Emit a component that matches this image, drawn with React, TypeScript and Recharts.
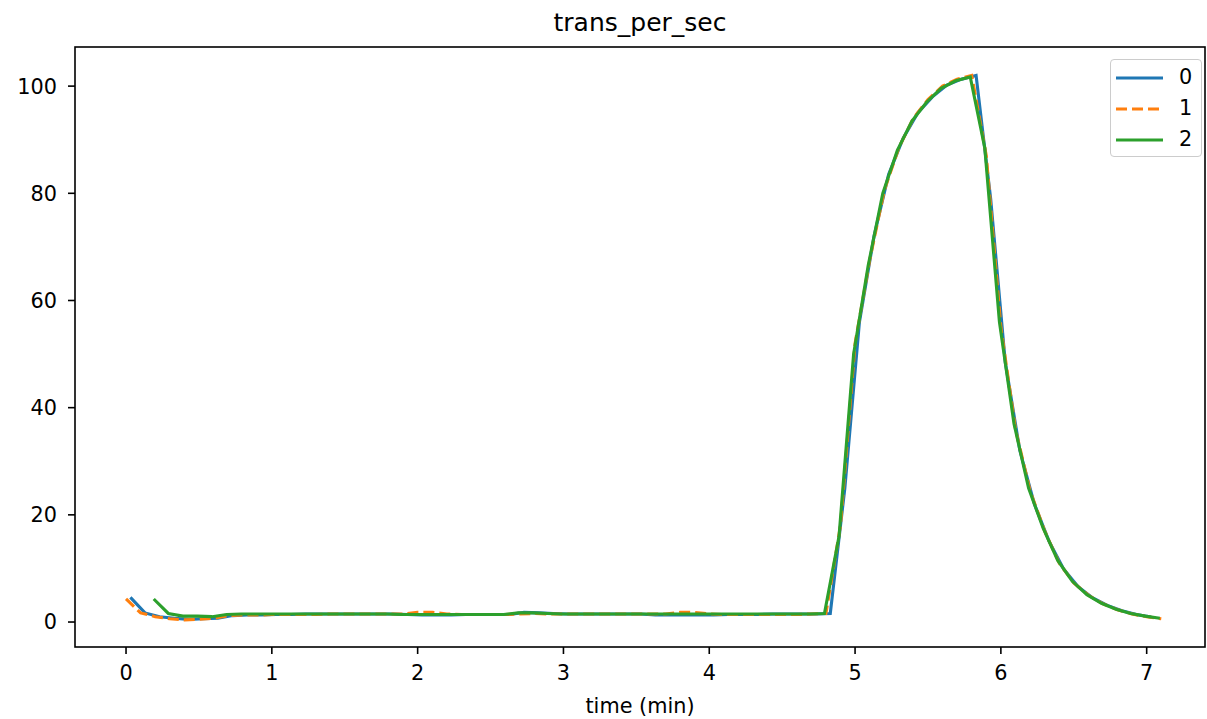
import React from 'react';
import { LineChart, Line, XAxis, YAxis, Legend } from 'recharts';

const FONT = '"DejaVu Sans", Verdana, sans-serif';

// sample times (minutes) for each run
const time0 = [
  0.03, 0.13, 0.23, 0.33, 0.43, 0.53, 0.63, 0.73, 0.83, 0.93,
  1.03, 1.13, 1.23, 1.33, 1.43, 1.53, 1.63, 1.73, 1.83, 1.93,
  2.03, 2.13, 2.23, 2.33, 2.43, 2.53, 2.63, 2.73, 2.83, 2.93,
  3.03, 3.13, 3.23, 3.33, 3.43, 3.53, 3.63, 3.73, 3.83, 3.93,
  4.03, 4.13, 4.23, 4.33, 4.43, 4.53, 4.63, 4.73, 4.83, 4.93,
  5.03, 5.13, 5.23, 5.33, 5.43, 5.53, 5.63, 5.73, 5.83, 5.93,
  6.03, 6.13, 6.23, 6.33, 6.43, 6.53, 6.63, 6.73, 6.83, 6.93,
  7.03,
];
const time1 = [
  0.0, 0.1, 0.2, 0.3, 0.4, 0.5, 0.6, 0.7, 0.8, 0.9,
  1.0, 1.1, 1.2, 1.3, 1.4, 1.5, 1.6, 1.7, 1.8, 1.9,
  2.0, 2.1, 2.2, 2.3, 2.4, 2.5, 2.6, 2.7, 2.8, 2.9,
  3.0, 3.1, 3.2, 3.3, 3.4, 3.5, 3.6, 3.7, 3.8, 3.9,
  4.0, 4.1, 4.2, 4.3, 4.4, 4.5, 4.6, 4.7, 4.8, 4.9,
  5.0, 5.1, 5.2, 5.3, 5.4, 5.5, 5.6, 5.7, 5.8, 5.9,
  6.0, 6.1, 6.2, 6.3, 6.4, 6.5, 6.6, 6.7, 6.8, 6.9,
  7.0, 7.1,
];
const time2 = [
  0.19, 0.29, 0.39, 0.49, 0.59, 0.69, 0.79, 0.89, 0.99, 1.09,
  1.19, 1.29, 1.39, 1.49, 1.59, 1.69, 1.79, 1.89, 1.99, 2.09,
  2.19, 2.29, 2.39, 2.49, 2.59, 2.69, 2.79, 2.89, 2.99, 3.09,
  3.19, 3.29, 3.39, 3.49, 3.59, 3.69, 3.79, 3.89, 3.99, 4.09,
  4.19, 4.29, 4.39, 4.49, 4.59, 4.69, 4.79, 4.89, 4.99, 5.09,
  5.19, 5.29, 5.39, 5.49, 5.59, 5.69, 5.79, 5.89, 5.99, 6.09,
  6.19, 6.29, 6.39, 6.49, 6.59, 6.69, 6.79, 6.89, 6.99, 7.09,
];

// trans_per_sec readings
const values0 = [
  4.6, 1.7, 1.0, 0.7, 0.5, 0.6, 0.7, 1.2, 1.3, 1.3,
  1.4, 1.4, 1.5, 1.5, 1.5, 1.5, 1.5, 1.5, 1.5, 1.4,
  1.3, 1.3, 1.3, 1.4, 1.4, 1.4, 1.4, 1.8, 1.7, 1.6,
  1.5, 1.5, 1.5, 1.5, 1.5, 1.5, 1.3, 1.3, 1.3, 1.3,
  1.3, 1.4, 1.4, 1.4, 1.5, 1.5, 1.5, 1.5, 1.6, 25,
  56, 72, 83.5, 90.3, 95, 98, 100.2, 101.3, 102, 79,
  48.5, 32, 22, 15.1, 9.9, 6.6, 4.5, 3.1, 2.1, 1.4,
  0.95,
];
const values1 = [
  4.3, 1.7, 1.0, 0.6, 0.4, 0.5, 0.7, 1.2, 1.3, 1.3,
  1.4, 1.4, 1.4, 1.4, 1.5, 1.5, 1.5, 1.5, 1.5, 1.5,
  1.8, 1.8, 1.5, 1.4, 1.4, 1.4, 1.4, 1.5, 1.6, 1.5,
  1.5, 1.5, 1.5, 1.5, 1.5, 1.5, 1.5, 1.5, 1.8, 1.8,
  1.5, 1.4, 1.4, 1.4, 1.4, 1.4, 1.4, 1.5, 1.6, 18,
  52, 67.5, 80.5, 88.5, 94, 97.5, 100, 101.3, 102, 87,
  55, 36, 24.5, 17, 11, 7.3, 5, 3.4, 2.3, 1.5,
  1.0, 0.6,
];
const values2 = [
  4.3, 1.6, 1.1, 1.1, 1.0, 1.4, 1.5, 1.5, 1.5, 1.5,
  1.5, 1.5, 1.5, 1.5, 1.5, 1.5, 1.5, 1.4, 1.4, 1.4,
  1.4, 1.4, 1.4, 1.4, 1.4, 1.7, 1.7, 1.6, 1.5, 1.5,
  1.5, 1.5, 1.5, 1.5, 1.5, 1.5, 1.5, 1.5, 1.5, 1.5,
  1.5, 1.5, 1.5, 1.5, 1.5, 1.5, 1.6, 16, 50, 66.5,
  80, 88, 93.5, 97, 99.6, 101, 101.7, 88.4, 56, 37,
  25, 17.5, 11.5, 7.6, 5.1, 3.5, 2.4, 1.6, 1.1, 0.7,
];

const xTicks = [0, 1, 2, 3, 4, 5, 6, 7];
const yTicks = [0, 20, 40, 60, 80, 100];

const toPoints = (ts: number[], vs: number[]) => ts.map((t, i) => ({ t, v: vs[i] }));

const SERIES = [
  { name: '0', color: '#1f77b4', dash: undefined as string | undefined, data: toPoints(time0, values0) },
  { name: '1', color: '#ff7f0e', dash: '11 5', data: toPoints(time1, values1) },
  { name: '2', color: '#2ca02c', dash: undefined as string | undefined, data: toPoints(time2, values2) },
];

const tickStyle = { fill: '#000', fontSize: 20.8, fontFamily: FONT };

const renderLegend = () => (
  <div
    style={{
      width: 92,
      height: 98,
      boxSizing: 'border-box',
      border: '1.5px solid #cccccc',
      borderRadius: 4,
      background: 'rgba(255,255,255,0.8)',
      fontFamily: FONT,
      fontSize: 20.8,
      color: '#000',
      paddingTop: 2,
    }}
  >
    {SERIES.map((s) => (
      <div key={s.name} style={{ display: 'flex', alignItems: 'center', height: 31, paddingLeft: 5 }}>
        <svg width={47} height={8} style={{ display: 'block' }}>
          <line x1={0} y1={4} x2={47} y2={4} stroke={s.color} strokeWidth={3.1} strokeDasharray={s.dash} />
        </svg>
        <span style={{ marginLeft: 16, lineHeight: 1 }}>{s.name}</span>
      </div>
    ))}
  </div>
);

export default function App() {
  return (
    <div style={{ position: 'absolute', left: 0, top: 0, width: 1207, height: 719, background: '#fff' }}>
      <div
        style={{
          position: 'absolute',
          left: 75,
          top: 10,
          width: 1130,
          textAlign: 'center',
          fontFamily: FONT,
          fontSize: 25,
          lineHeight: 1,
          color: '#000',
        }}
      >
        trans_per_sec
      </div>
      <LineChart width={1207} height={719} margin={{ top: 47, right: 2, bottom: 0, left: 15 }}>
        <XAxis
          type="number"
          dataKey="t"
          domain={[-0.35, 7.4]}
          ticks={xTicks}
          allowDataOverflow
          axisLine={false}
          tickLine={{ stroke: '#000', strokeWidth: 1.6 }}
          tickSize={7}
          tickMargin={11}
          tick={tickStyle}
          height={72}
          label={{ value: 'time (min)', position: 'insideBottom', offset: 6, fill: '#000', fontSize: 20.8, fontFamily: FONT }}
        />
        <YAxis
          type="number"
          dataKey="v"
          domain={[-4.66, 107.3]}
          ticks={yTicks}
          allowDataOverflow
          axisLine={false}
          tickLine={{ stroke: '#000', strokeWidth: 1.6 }}
          tickSize={7}
          tickMargin={11}
          tick={tickStyle}
          width={60}
        />
        <Legend
          layout="horizontal"
          verticalAlign="middle"
          align="center"
          content={renderLegend}
          wrapperStyle={{ top: 59, left: 1110, width: 92, height: 98 }}
        />
        {SERIES.map((s) => (
          <Line
            key={s.name}
            name={s.name}
            data={s.data}
            dataKey="v"
            type="linear"
            stroke={s.color}
            strokeWidth={3.1}
            strokeDasharray={s.dash}
            dot={false}
            activeDot={false}
            isAnimationActive={false}
          />
        ))}
      </LineChart>
      <svg
        width={1207}
        height={719}
        style={{ position: 'absolute', left: 0, top: 0, pointerEvents: 'none' }}
      >
        <rect x={75} y={47} width={1130} height={600} fill="none" stroke="#000" strokeWidth={1.6} />
      </svg>
    </div>
  );
}
